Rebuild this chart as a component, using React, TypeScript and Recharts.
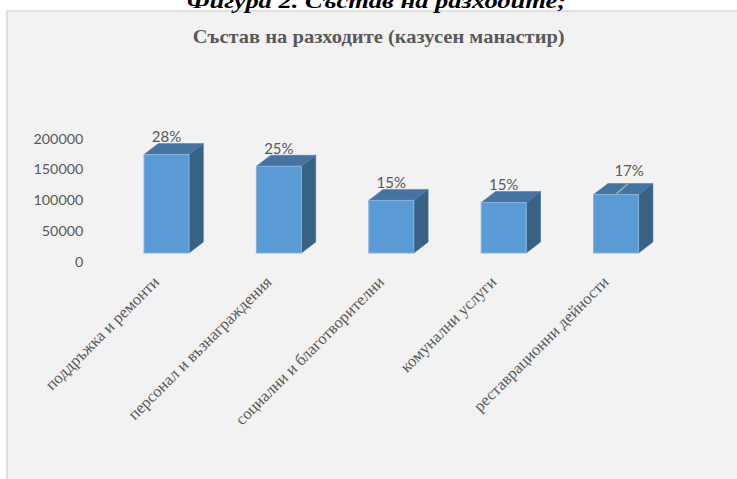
import React from 'react';
import { BarChart, Bar, XAxis, YAxis, LabelList } from 'recharts';

const categories = [
  'поддръжка и ремонти',
  'персонал и възнаграждения',
  'социални и благотворителни',
  'комунални услуги',
  'реставрационни дейности',
];
const expenses = [160000, 141000, 85500, 82000, 95000];
const shareLabels = ['28%', '25%', '15%', '15%', '17%'];
const yTicks = [0, 50000, 100000, 150000, 200000];

const data = categories.map((name, i) => ({ name, value: expenses[i], share: shareLabels[i] }));

const DX = 14.3;
const DY = 11;
const GRAY = '#595959';

const Bar3D = (props: any) => {
  const { x, y, width, height } = props;
  if (height == null || width == null) return null;
  const top = `${x},${y} ${x + DX},${y - DY} ${x + width + DX},${y - DY} ${x + width},${y}`;
  const side = `${x + width},${y} ${x + width + DX},${y - DY} ${x + width + DX},${y + height - DY} ${x + width},${y + height}`;
  return (
    <g>
      <polygon points={side} fill="#386183" stroke="#3f6b92" strokeWidth={0.6} />
      <polygon points={top} fill="#4574a3" stroke="#4d7fb1" strokeWidth={0.6} />
      <rect x={x} y={y} width={width} height={height} fill="#5b9bd5" stroke="#86b2de" strokeWidth={1} />
    </g>
  );
};

const labelShift = [
  { dx: 0, dy: 0 },
  { dx: 0, dy: 0 },
  { dx: 0, dy: 0 },
  { dx: 0, dy: 0 },
  { dx: 13, dy: -6 },
];

const ShareLabel = (props: any) => {
  const { x, y, width, index, value } = props;
  const cx = x + width / 2;
  const s = labelShift[index] || { dx: 0, dy: 0 };
  const lx = cx + s.dx;
  const ly = y - 18 + s.dy;
  return (
    <g>
      {s.dx !== 0 && (
        <line x1={cx} y1={y - 0.5} x2={cx + 12} y2={y - DY} stroke="#a6a6a6" strokeWidth={1.5} />
      )}
      <text x={lx} y={ly} dy="0.355em" textAnchor="middle" fill={GRAY} fontFamily="Lato" fontSize={15}>
        {value}
      </text>
    </g>
  );
};

const CatTick = (props: any) => {
  const { x, y, payload } = props;
  const ax = x - 6;
  const ay = y + 30;
  return (
    <text
      x={ax}
      y={ay}
      textAnchor="end"
      fill={GRAY}
      fontFamily="'Liberation Serif', serif"
      fontSize={16.5}
      transform={`rotate(-45, ${ax}, ${ay})`}
    >
      {payload.value}
    </text>
  );
};

const ValTick = (props: any) => {
  const { x, y, payload } = props;
  return (
    <text x={x - 26.7} y={y + 8.6} dy="0.355em" textAnchor="end" fill={GRAY} fontFamily="Lato" fontSize={14.3}>
      {payload.value}
    </text>
  );
};

export default function App() {
  return (
    <div style={{ position: 'fixed', left: 0, top: 0, width: 737, height: 479, background: '#ffffff', overflow: 'hidden' }}>
      <svg width={737} height={479} style={{ position: 'absolute', left: 0, top: 0 }}>
        <rect x={7} y={11} width={740} height={480} fill="#f2f2f2" stroke="#d9d9d9" strokeWidth={1.5} />
        <text
          x={187}
          y={8}
          fontFamily="'Liberation Serif', serif"
          fontWeight="bold"
          fontStyle="italic"
          fontSize={21}
          fill="#000000"
          textLength={379}
          lengthAdjust="spacingAndGlyphs"
        >
          Фигура 2. Състав на разходите;
        </text>
        <text
          x={192.7}
          y={43.3}
          fontFamily="'Liberation Serif', serif"
          fontWeight="bold"
          fontSize={19}
          fill={GRAY}
          textLength={372}
          lengthAdjust="spacingAndGlyphs"
        >
          Състав на разходите (казусен манастир)
        </text>
      </svg>
      <div style={{ position: 'absolute', left: 0, top: 0 }}>
        <BarChart width={737} height={479} data={data} margin={{ top: 130, right: 65, bottom: 0, left: 0 }}>
          <XAxis
            dataKey="name"
            height={226}
            axisLine={false}
            tickLine={false}
            tickSize={0}
            tickMargin={0}
            interval={0}
            tick={<CatTick />}
          />
          <YAxis
            width={110}
            domain={[0, 200000]}
            ticks={yTicks}
            axisLine={false}
            tickLine={false}
            tickSize={0}
            tickMargin={0}
            tick={<ValTick />}
          />
          <Bar dataKey="value" barSize={45} isAnimationActive={false} shape={<Bar3D />}>
            <LabelList dataKey="share" content={<ShareLabel />} />
          </Bar>
        </BarChart>
      </div>
    </div>
  );
}
